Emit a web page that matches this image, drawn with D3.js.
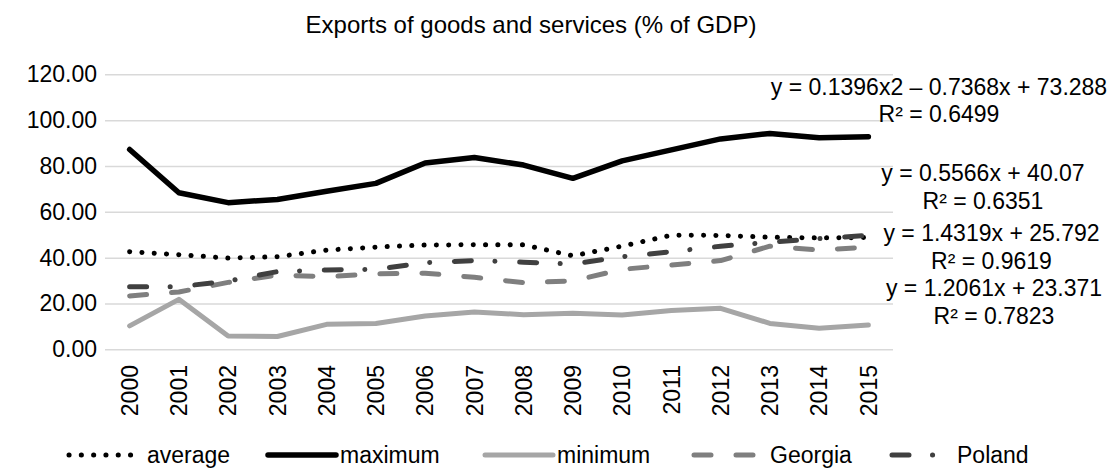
<!DOCTYPE html>
<html>
<head>
<meta charset="utf-8">
<script src="https://cdn.jsdelivr.net/npm/d3@7"></script>
<style>
  html, body { margin: 0; padding: 0; background: #fff; }
  svg { display: block; font-family: "Liberation Sans", Arial, sans-serif; }
</style>
</head>
<body>
<svg id="chart" width="1120" height="468"></svg>
<script>
// Exports of goods and services (% of GDP), 2000–2015
const years = [2000, 2001, 2002, 2003, 2004, 2005, 2006, 2007,
               2008, 2009, 2010, 2011, 2012, 2013, 2014, 2015];

const average = [42.6, 41.3, 39.8, 40.4, 43.3, 44.6, 45.5, 45.6,
                 45.6, 40.8, 45.0, 49.8, 49.7, 48.9, 48.6, 48.8];
const maximum = [87.2, 68.3, 64.0, 65.4, 69.0, 72.4, 81.3, 83.7,
                 80.4, 74.6, 82.2, 87.0, 91.8, 94.2, 92.3, 92.8];
const minimum = [10.2, 21.8, 5.8, 5.6, 10.9, 11.3, 14.5, 16.3,
                 15.1, 15.7, 15.0, 16.9, 17.9, 11.3, 9.2, 10.6];
const georgia = [23.3, 25.0, 29.2, 32.4, 31.7, 32.9, 33.2, 31.4,
                 29.1, 29.8, 34.9, 36.8, 38.7, 45.0, 43.3, 44.6];
const poland  = [27.3, 27.3, 29.8, 33.9, 34.6, 34.9, 37.8, 38.7,
                 38.0, 37.2, 40.4, 42.6, 45.0, 46.7, 48.3, 49.7];

const seriesNames = ["average", "maximum", "minimum", "Georgia", "Poland"];
const yTicks = [0, 20, 40, 60, 80, 100, 120];

const trendLabels = [
  ["y = 0.1396x2 \u2013 0.7368x + 73.288", "R\u00b2 = 0.6499"],
  ["y = 0.5566x + 40.07", "R\u00b2 = 0.6351"],
  ["y = 1.4319x + 25.792", "R\u00b2 = 0.9619"],
  ["y = 1.2061x + 23.371", "R\u00b2 = 0.7823"]
];

// Line styles per series
const styles = {
  average: { color: "#000000", width: 5,   dash: "0.1 12.2" },
  maximum: { color: "#000000", width: 5.5, dash: null },
  minimum: { color: "#a6a6a6", width: 5,   dash: null },
  Georgia: { color: "#7f7f7f", width: 5,   dash: "17 25" },
  Poland:  { color: "#404040", width: 5,   dash: "17 23.5 0.1 24.7" }
};

const values = {
  average: average, maximum: maximum, minimum: minimum,
  Georgia: georgia, Poland: poland
};

const svg = d3.select("#chart");
const plot = { left: 105, right: 893, top: 74.3, bottom: 349.3 };

const x = d3.scaleBand().domain(years).range([plot.left, plot.right]).padding(0);
const y = d3.scaleLinear().domain([0, 120]).range([plot.bottom, plot.top]);
const cx = d => x(d) + x.bandwidth() / 2;

// Title
svg.append("text")
  .attr("x", 531).attr("y", 33)
  .attr("text-anchor", "middle")
  .attr("font-size", 24)
  .attr("fill", "#000")
  .text("Exports of goods and services (% of GDP)");

// Value axis with gridlines
const yAxis = svg.append("g")
  .attr("transform", `translate(${plot.left},0)`)
  .call(d3.axisLeft(y)
    .tickValues(yTicks)
    .tickSize(-(plot.right - plot.left))
    .tickPadding(8)
    .tickFormat(d3.format(".2f")));
yAxis.select(".domain").remove();
yAxis.selectAll(".tick line").attr("stroke", "#d9d9d9").attr("stroke-width", 1.5);
yAxis.selectAll(".tick text")
  .attr("font-size", 23)
  .attr("font-family", "Liberation Sans, Arial, sans-serif")
  .attr("fill", "#000");

// Category labels, rotated
svg.append("g").selectAll("text")
  .data(years)
  .join("text")
  .attr("transform", d => `translate(${cx(d)},365) rotate(-90)`)
  .attr("text-anchor", "end")
  .attr("dy", "0.36em")
  .attr("font-size", 23)
  .attr("fill", "#000")
  .text(d => d);

// Series lines
const line = d3.line()
  .x((d, i) => cx(years[i]))
  .y(d => y(d));

seriesNames.forEach(name => {
  const s = styles[name];
  svg.append("path")
    .datum(values[name])
    .attr("d", line)
    .attr("fill", "none")
    .attr("stroke", s.color)
    .attr("stroke-width", s.width)
    .attr("stroke-linecap", "round")
    .attr("stroke-linejoin", "round")
    .attr("stroke-dasharray", s.dash);
});

// Trendline equations
const trendPos = [
  { x: 939, y: 86.7 },
  { x: 983, y: 173.3 },
  { x: 991.5, y: 233.3 },
  { x: 994, y: 288.3 }
];
trendLabels.forEach((lines, i) => {
  lines.forEach((t, j) => {
    svg.append("text")
      .attr("x", trendPos[i].x)
      .attr("y", trendPos[i].y + j * 27.5)
      .attr("text-anchor", "middle")
      .attr("dominant-baseline", "central")
      .attr("font-size", 23)
      .attr("fill", "#000")
      .text(t);
  });
});

// Legend
const legendY = 455;
const legendItems = [
  { name: "average", x0: 69,  x1: 140, tx: 147 },
  { name: "maximum", x0: 268, x1: 336, tx: 340 },
  { name: "minimum", x0: 485, x1: 553, tx: 557 },
  { name: "Georgia", x0: 694, x1: 760, tx: 770 },
  { name: "Poland",  x0: 892, x1: 955, tx: 957 }
];
const legend = svg.append("g");
legendItems.forEach(item => {
  const s = styles[item.name];
  legend.append("line")
    .attr("x1", item.x0).attr("x2", item.x1)
    .attr("y1", legendY).attr("y2", legendY)
    .attr("stroke", s.color)
    .attr("stroke-width", s.width)
    .attr("stroke-linecap", "round")
    .attr("stroke-dasharray", s.dash);
  legend.append("text")
    .attr("x", item.tx).attr("y", legendY)
    .attr("dominant-baseline", "central")
    .attr("font-size", 23)
    .attr("fill", "#000")
    .text(item.name);
});
</script>
</body>
</html>
